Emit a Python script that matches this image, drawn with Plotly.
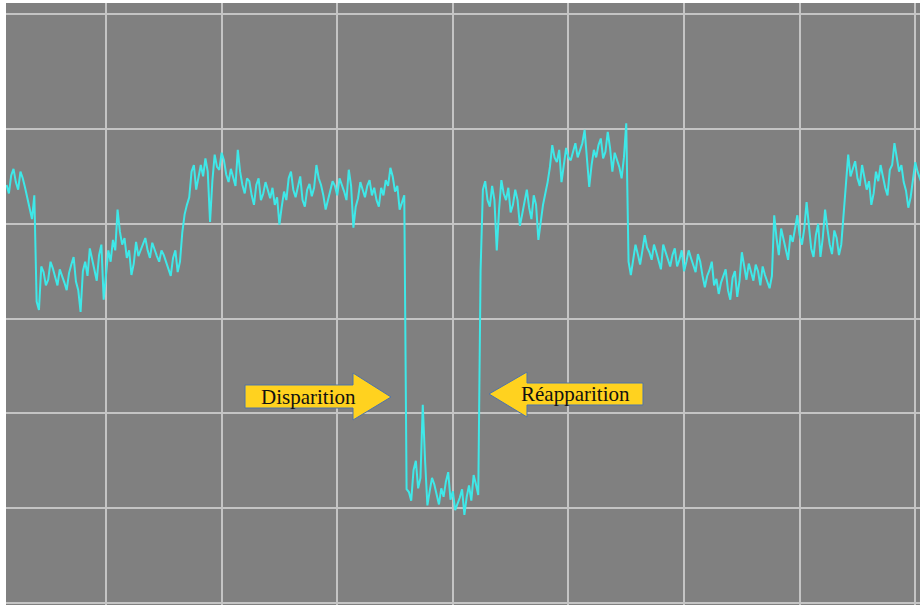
import numpy as np
import plotly.graph_objects as go

# Signal samples (time axis: start 1.4, step 0.4 units; grid every 10 units)
t_start = 1.4
t_step = 0.4
signal = [
    441, 451, 444, 455, 438, 415, 430, 309, 349, 341,
    353, 335, 346, 330, 357, 339, 307, 360, 374, 351,
    367, 320, 372, 383, 415, 378, 364, 346, 381, 372,
    385, 364, 372, 360, 367, 351, 364, 349, 391, 420,
    455, 436, 462, 469, 402, 473, 457, 467, 444, 448,
    478, 441, 448, 430, 441, 425, 444, 427, 420, 399,
    434, 448, 436, 441, 425, 436, 429, 462, 441, 415,
    434, 440, 448, 434, 457, 396, 427, 436, 440, 430,
    425, 438, 446, 459, 434, 415, 430, 117, 140, 121,
    209, 103, 132, 114, 121, 128, 109, 98, 111, 93,
    124, 135, 114, 436, 425, 440, 372, 446, 425, 412,
    436, 398, 425, 417, 430, 383, 420, 444, 483, 465,
    444, 480, 467, 485, 478, 499, 439, 478, 483, 469,
    497, 455, 467, 448, 506, 346, 378, 357, 388, 370,
    378, 360, 378, 364, 367, 355, 372, 360, 364, 349,
    360, 333, 351, 335, 326, 346, 330, 343, 323, 370,
    341, 349, 357, 335, 346, 332, 409, 367, 383, 362,
    381, 409, 378, 423, 374, 388, 365, 415, 378, 393,
    367, 412, 473, 459, 448, 462, 436, 420, 455, 462,
    438, 457, 485, 455, 444, 417, 446, 455, 441,
]
# Samples read half-way between the ones above
signal_mid = [
    432, 458, 436, 448, 428, 405, 318, 355, 335, 360,
    345, 352, 338, 348, 365, 330, 350, 345, 362, 340,
    378, 345, 360, 372, 392, 385, 372, 358, 366, 378,
    372, 380, 366, 372, 360, 345, 372, 360, 410, 428,
    462, 448, 450, 455, 445, 460, 475, 452, 458, 440,
    455, 432, 445, 420, 448, 432, 436, 438, 428, 418,
    425, 455, 428, 450, 418, 442, 438, 448, 430, 425,
    445, 430, 442, 425, 440, 418, 444, 428, 446, 438,
    418, 430, 440, 450, 440, 424, 120, 108, 150, 132,
    150, 118, 125, 104, 112, 138, 118, 104, 120, 112,
    108, 125, 350, 445, 418, 425, 415, 432, 438, 420,
    425, 410, 436, 405, 420, 405, 432, 460, 470, 478,
    462, 470, 476, 470, 485, 470, 462, 470, 490, 476,
    480, 475, 460, 470, 360, 365, 368, 372, 375, 362,
    370, 352, 370, 355, 374, 362, 350, 372, 355, 368,
    345, 345, 360, 342, 338, 352, 320, 350, 340, 355,
    358, 340, 350, 355, 340, 345, 385, 395, 370, 388,
    395, 388, 395, 398, 365, 400, 385, 395, 368, 385,
    378, 445, 450, 466, 440, 450, 445, 432, 445, 450,
    430, 462, 470, 462, 435, 428, 465, 448,
]
y_grid = [0, 100, 200, 300, 400, 500]
x_grid = [10, 20, 30, 40, 50, 60, 70, 80]
labels = ["Disparition", "Réapparition"]

values = []
for i, v in enumerate(signal):
    values.append(v)
    if i < len(signal_mid):
        values.append(signal_mid[i])
t = t_start + (t_step / 2) * np.arange(len(values))

W, H = 920, 607
ML, MR, MT, MB = 6, 0, 3, 2
pw, ph = W - ML - MR, H - MT - MB


def px(x):
    return (x - ML) / pw


def py(y):
    return (H - MB - y) / ph


fig = go.Figure()
fig.add_trace(go.Scatter(
    x=t, y=values, mode="lines",
    line=dict(color="#3ee8e8", width=2),
    hoverinfo="skip", showlegend=False,
))

grid_col = "#c4c4c4"
fig.update_xaxes(range=[1.35, 80.41], tickvals=x_grid, showticklabels=False,
                 showgrid=True, gridcolor=grid_col, gridwidth=2,
                 zeroline=False, ticks="", showline=False)
fig.update_yaxes(range=[-2.1, 632.9], tickvals=y_grid, showticklabels=False,
                 showgrid=True, gridcolor=grid_col, gridwidth=2,
                 zeroline=False, ticks="", showline=False)

shapes = []
shapes.append(dict(type="line", xref="paper", yref="paper", x0=0, x1=1,
                   y0=py(14), y1=py(14), line=dict(color=grid_col, width=2),
                   layer="below"))


def path(points):
    return "M" + " L".join(f"{px(a):.5f},{py(b):.5f}" for a, b in points) + " Z"


arrow1 = [(245, 385), (353, 385), (353, 373), (391, 397), (353, 420), (353, 408), (245, 408)]
arrow2 = [(489, 394), (527, 372), (527, 383), (643, 383), (643, 405), (527, 405), (527, 417)]
for pts in (arrow1, arrow2):
    shapes.append(dict(type="path", xref="paper", yref="paper", path=path(pts),
                       fillcolor="#ffd21f", line=dict(color="#4f73a8", width=1),
                       layer="above"))

annotations = [
    dict(text=labels[0], xref="paper", yref="paper", x=px(308), y=py(397),
         xanchor="center", yanchor="middle", showarrow=False,
         font=dict(family="Liberation Serif", size=21, color="#111111")),
    dict(text=labels[1], xref="paper", yref="paper", x=px(575), y=py(394),
         xanchor="center", yanchor="middle", showarrow=False,
         font=dict(family="Liberation Serif", size=21, color="#111111")),
]

fig.update_layout(
    width=W, height=H,
    margin=dict(l=ML, r=MR, t=MT, b=MB, pad=0),
    paper_bgcolor="white", plot_bgcolor="#808080",
    shapes=shapes, annotations=annotations,
)

fig.write_html("out.html", config={"displayModeBar": False},
               post_script="document.body.style.margin='0';")
